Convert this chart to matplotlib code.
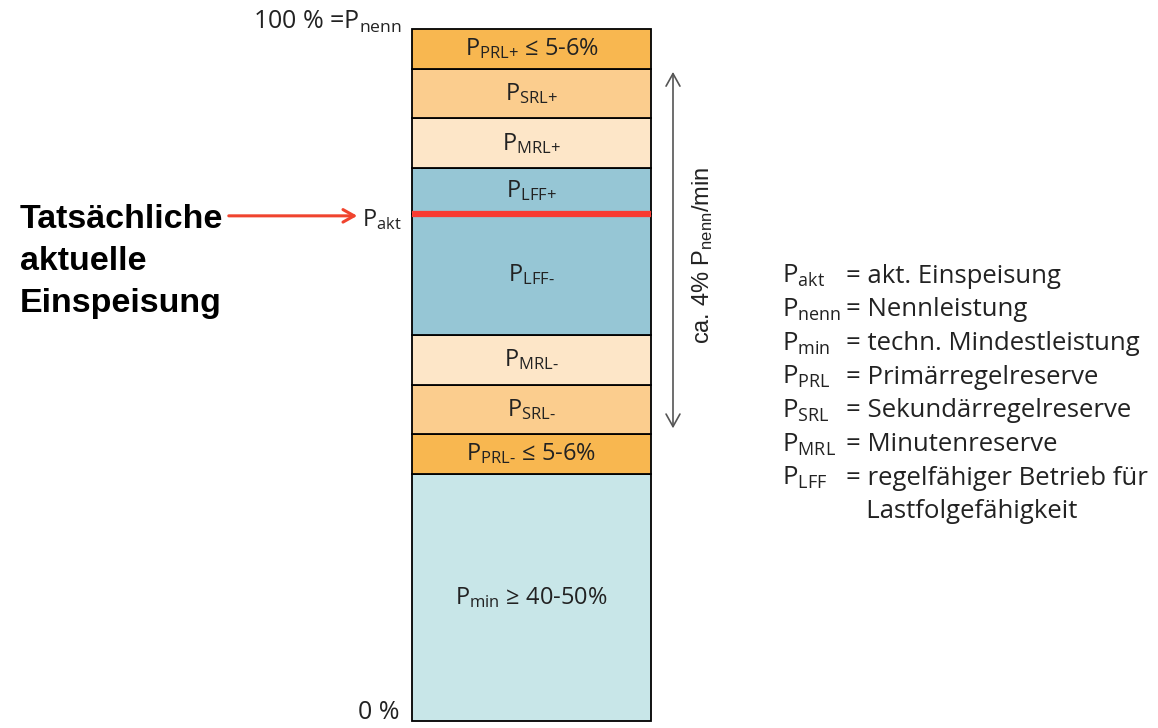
import matplotlib.pyplot as plt
from matplotlib.patches import FancyArrowPatch

plt.rcParams['font.family'] = ['Open Sans', 'DejaVu Sans']
plt.rcParams['mathtext.fontset'] = 'custom'
plt.rcParams['mathtext.rm'] = 'Open Sans'

# segment shares of the bar, bottom to top (percent of P_nenn)
segments = ['min', 'PRL-', 'SRL-', 'MRL-', 'LFF-', 'LFF+', 'MRL+', 'SRL+', 'PRL+']
shares = [35.7, 5.8, 7.1, 7.2, 17.5, 6.6, 7.2, 7.1, 5.8]
seg_labels = [r'$\mathregular{P_{min}}$ ≥ 40-50%', r'$\mathregular{P_{PRL‐}}$ ≤ 5-6%',
              r'$\mathregular{P_{SRL‐}}$', r'$\mathregular{P_{MRL‐}}$', r'$\mathregular{P_{LFF‐}}$',
              r'$\mathregular{P_{LFF{+}}}$', r'$\mathregular{P_{MRL{+}}}$', r'$\mathregular{P_{SRL{+}}}$',
              r'$\mathregular{P_{PRL{+}}}$ ≤ 5-6%']
seg_colors = ['#c8e6e8', '#f8b750', '#fbcd8e', '#fde6c8', '#96c6d5',
              '#96c6d5', '#fde6c8', '#fbcd8e', '#f8b750']

p_akt = 73.3   # actual feed-in, percent
ramp_lo, ramp_hi = 41.9, 94.2  # range of the ca. 4 %/min arrow

legend_sym = [r'$\mathregular{P_{akt}}$', r'$\mathregular{P_{nenn}}$', r'$\mathregular{P_{min}}$',
              r'$\mathregular{P_{PRL}}$', r'$\mathregular{P_{SRL}}$', r'$\mathregular{P_{MRL}}$',
              r'$\mathregular{P_{LFF}}$', '']
legend_txt = ['= akt. Einspeisung', '= Nennleistung', '= techn. Mindestleistung',
              '= Primärregelreserve', '= Sekundärregelreserve', '= Minutenreserve',
              '= regelfähiger Betrieb für', '   Lastfolgefähigkeit']
left_lines = ['Tatsächliche', 'aktuelle', 'Einspeisung']

fig = plt.figure(figsize=(11.58, 7.28), dpi=100)
ax = fig.add_axes([0, 0, 1, 1])
ax.set_xlim(0, 1158)
ax.set_ylim(-1.01, 104.19)
ax.axis('off')


def px2v(p):
    # picture row -> percent on the bar scale
    return (721 - p) / 6.92


bar_x, bar_w = 531.5, 239
bottom = 0
for i, (s, c) in enumerate(zip(shares, seg_colors)):
    ax.bar(bar_x, s, width=bar_w, bottom=bottom, color=c, edgecolor='black', linewidth=1.3)
    ax.text(bar_x, bottom + s / 2, seg_labels[i], ha='center', va='center',
            fontsize=17, color='#222222')
    bottom += s

# actual feed-in line
ax.plot([bar_x - bar_w / 2, bar_x + bar_w / 2], [p_akt, p_akt], color='#f83a32', lw=4.5,
        solid_capstyle='butt')
ax.annotate('', xy=(360, p_akt - 0.3), xytext=(226, p_akt - 0.3),
            arrowprops=dict(arrowstyle='->,head_length=0.8,head_width=0.45', color='#f0442e', lw=2.2))
ax.text(362, p_akt - 0.9, r'$\mathregular{P_{akt}}$', ha='left', va='center', fontsize=17,
        color='#222222')

for k, line in enumerate(left_lines):
    ax.text(20, px2v(228 + 42 * k), line, ha='left', va='baseline',
            fontsize=24.5, fontweight='bold', family='Liberation Sans')

ax.text(402, px2v(22), r'100 % =$\mathregular{P_{nenn}}$', ha='right', va='center', fontsize=18,
        color='#222222')
ax.text(400, px2v(712), '0 %', ha='right', va='center', fontsize=18, color='#222222')

# ramp arrow
arr = FancyArrowPatch((673, ramp_lo), (673, ramp_hi), arrowstyle='<->,head_length=9,head_width=5',
                      color='#555555', lw=1.2, mutation_scale=1)
ax.add_patch(arr)
ax.text(703, px2v(255), r'ca. 4% $\mathregular{P_{nenn}}$/min', rotation=90,
        ha='center', va='center', fontsize=17, family='Liberation Sans', color='#222222')

# legend
for k, (sym, txt) in enumerate(zip(legend_sym, legend_txt)):
    y = px2v(276 + k * 33.7)
    ax.text(782, y, sym, ha='left', va='center', fontsize=18.5, color='#222222')
    ax.text(846, y, txt, ha='left', va='center', fontsize=18.5, color='#222222')

fig.savefig('out.png', dpi=100)
